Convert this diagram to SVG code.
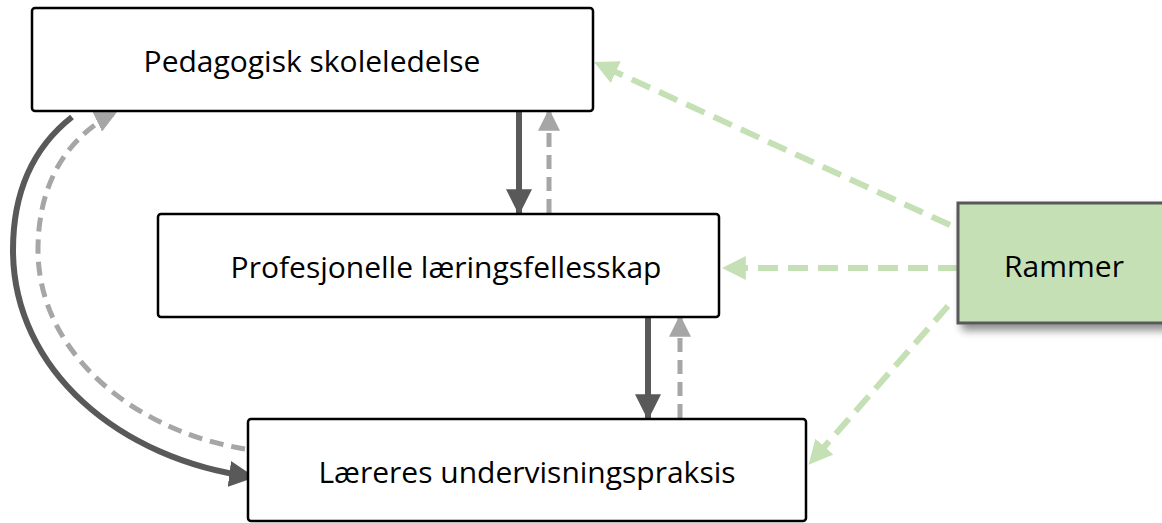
<svg xmlns="http://www.w3.org/2000/svg" width="1162" height="523" viewBox="0 0 1162 523">
<defs>
<style>
.box{fill:#fff;stroke:#000;stroke-width:2.5}
.lbl{font-family:"Open Sans","Liberation Sans",sans-serif;font-size:30px;fill:#000;text-anchor:middle}
.dark{fill:none;stroke:#595959;stroke-width:6}
.gray{fill:none;stroke:#a6a6a6;stroke-width:5;stroke-dasharray:14 8}
.green{fill:none;stroke:#c5e0b4;stroke-width:6;stroke-dasharray:20 10}
</style>
<marker id="hd" markerUnits="userSpaceOnUse" markerWidth="26" markerHeight="26" viewBox="0 0 24 24" refX="22" refY="12" orient="auto"><path d="M0,0 L24,12 L0,24 z" fill="#595959"/></marker>
<marker id="hg" markerUnits="userSpaceOnUse" markerWidth="22" markerHeight="22" viewBox="0 0 20 20" refX="18" refY="10" orient="auto"><path d="M0,0 L20,10 L0,20 z" fill="#a6a6a6"/></marker>
<marker id="hgr" markerUnits="userSpaceOnUse" markerWidth="24" markerHeight="24" viewBox="0 0 22 22" refX="20" refY="11" orient="auto"><path d="M0,0 L22,11 L0,22 z" fill="#c5e0b4"/></marker>
<filter id="sh" x="-20%" y="-20%" width="150%" height="160%"><feGaussianBlur in="SourceAlpha" stdDeviation="4"/><feOffset dx="5" dy="6"/><feComponentTransfer><feFuncA type="linear" slope="0.45"/></feComponentTransfer><feMerge><feMergeNode/><feMergeNode in="SourceGraphic"/></feMerge></filter>
</defs>
<g id="connectors">
<path class="dark" d="M519,111 L519,213" marker-end="url(#hd)"/>
<path class="gray" d="M549,213 L549,111" marker-end="url(#hg)"/>
<path class="dark" d="M648,317 L648,418" marker-end="url(#hd)"/>
<path class="gray" d="M680,418 L680,317" marker-end="url(#hg)"/>
<path class="dark" d="M72,117 C30,150 13,195 13,250 C13,370 120,460 253,477" marker-end="url(#hd)"/>
<path class="gray" d="M245,449 C130,430 38,350 38,250 C38,180 70,135 115,113" marker-end="url(#hg)"/>
<path class="green" d="M950,225 L596,63" marker-end="url(#hgr)"/>
<path class="green" d="M958,268 L724,268" marker-end="url(#hgr)"/>
<path class="green" d="M948,306 L810,463" marker-end="url(#hgr)"/>
</g>
<g id="node-pedagogisk">
<rect class="box" x="32" y="8" width="561" height="103" rx="3"/>
<text class="lbl" x="312" y="72">Pedagogisk skoleledelse</text>
</g>
<g id="node-profesjonelle">
<rect class="box" x="158" y="214" width="561" height="103" rx="3"/>
<text class="lbl" x="446" y="278">Profesjonelle læringsfellesskap</text>
</g>
<g id="node-laereres">
<rect class="box" x="248" y="419" width="558" height="102" rx="3"/>
<text class="lbl" x="527" y="483">Læreres undervisningspraksis</text>
</g>
<g id="node-rammer">
<rect x="958" y="203" width="210" height="120" fill="#c5e0b4" stroke="#595959" stroke-width="3" filter="url(#sh)"/>
<text class="lbl" x="1064" y="277">Rammer</text>
</g>
</svg>
